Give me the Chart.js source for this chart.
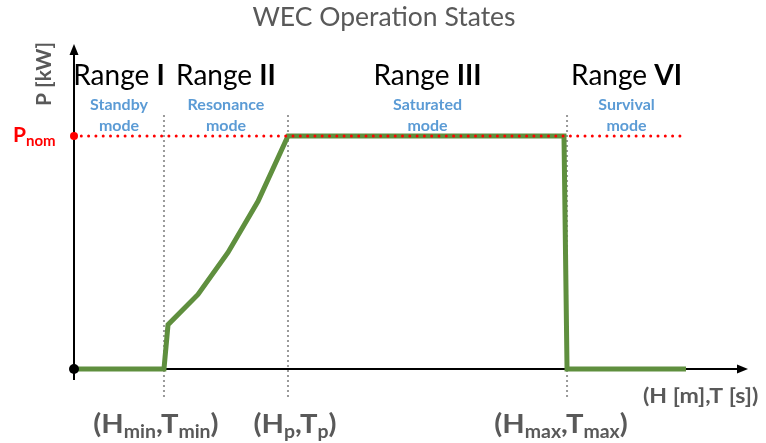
<!DOCTYPE html>
<html>
<head>
<meta charset="utf-8">
<script src="https://cdn.jsdelivr.net/npm/chart.js@4"></script>
<style>
  html, body { margin: 0; padding: 0; background: #fff; }
  #wrap { width: 766px; height: 443px; }
</style>
</head>
<body>
<div id="wrap"><canvas id="chart" width="766" height="443"></canvas></div>
<script>
// curva de potência (x: escala H/T relativa, y: P / Pnom)
const powerX = [0, 13.35, 13.95, 18.4, 22.85, 27.3, 31.75, 72.7, 73.15, 90.8];
const powerY = [0, 0, 0.19, 0.32, 0.50, 0.72, 1, 1, 0, 0];
const pNom = 1;
const pNomEnd = 90.8;

// faixas de operação
const rangeEdges = [0, 13.35, 31.75, 73.15, 90.8];
const rangeLabels = ['Range I', 'Range II', 'Range III', 'Range VI'];
const modeLabels = [['Standby', 'mode'], ['Resonance', 'mode'], ['Saturated', 'mode'], ['Survival', 'mode']];

// limites no eixo x
const boundaryX = [13.35, 31.75, 73.15];
const boundaryLabels = ['(H_{min},T_{min})', '(H_{p},T_{p})', '(H_{max},T_{max})'];
const boundaryShift = [-8, 7, -6];

const gray = '#595959';
const green = '#5f8f3e';
const FONT = 'Lato, "Open Sans", sans-serif';

// escreve texto com subscritos no formato X_{sub}
function drawRich(ctx, str, cx, y, size, subSize, color, align, sx) {
  sx = sx || 1;
  const parts = str.split(/_\{([^}]*)\}/);
  const pieces = parts.map((t, i) => ({ t, sub: i % 2 === 1 }));
  let total = 0;
  pieces.forEach(p => {
    ctx.font = 'bold ' + (p.sub ? subSize : size) + 'px ' + FONT;
    p.w = ctx.measureText(p.t).width;
    total += p.w;
  });
  const start = align === 'left' ? cx : cx - total * sx / 2;
  ctx.save();
  ctx.translate(start, y);
  ctx.scale(sx, 1);
  ctx.fillStyle = color;
  ctx.textAlign = 'left';
  ctx.textBaseline = 'alphabetic';
  let x = 0;
  pieces.forEach(p => {
    ctx.font = 'bold ' + (p.sub ? subSize : size) + 'px ' + FONT;
    ctx.fillText(p.t, x, p.sub ? size * 0.2 : 0);
    x += p.w;
  });
  ctx.restore();
}

// "Range" normal + numeral em negrito
function drawRange(ctx, lbl, cx, y) {
  const sp = lbl.indexOf(' ');
  const a = lbl.slice(0, sp + 1), b = lbl.slice(sp + 1);
  ctx.font = '28px ' + FONT;
  const wa = ctx.measureText(a).width;
  ctx.font = 'bold 28px ' + FONT;
  const wb = ctx.measureText(b).width;
  const start = cx - (wa + wb) / 2;
  ctx.textAlign = 'left';
  ctx.fillStyle = '#000';
  ctx.font = '28px ' + FONT;
  ctx.fillText(a, start, y);
  ctx.font = 'bold 28px ' + FONT;
  ctx.fillText(b, start + wa, y);
}

const decor = {
  id: 'decor',
  beforeDatasetsDraw(chart) {
    const { ctx, chartArea: a, scales: { x, y } } = chart;
    ctx.save();
    // linhas pontilhadas cinza nos limites
    ctx.strokeStyle = '#9a9a9a';
    ctx.lineWidth = 2;
    ctx.setLineDash([2, 3]);
    boundaryX.forEach(v => {
      const px = x.getPixelForValue(v);
      ctx.beginPath();
      ctx.moveTo(px, 115);
      ctx.lineTo(px, 397);
      ctx.stroke();
    });
    ctx.setLineDash([]);

    // eixos com setas
    ctx.strokeStyle = '#000';
    ctx.fillStyle = '#000';
    ctx.lineWidth = 2;
    const x0 = x.getPixelForValue(0), y0 = y.getPixelForValue(0);
    ctx.beginPath();
    ctx.moveTo(x0, y0 + 11);
    ctx.lineTo(x0, a.top + 8);
    ctx.moveTo(x0 - 4, y0);
    ctx.lineTo(a.right - 8, y0);
    ctx.stroke();
    ctx.beginPath();
    ctx.moveTo(x0, a.top);
    ctx.lineTo(x0 - 4.5, a.top + 11);
    ctx.lineTo(x0 + 4.5, a.top + 11);
    ctx.closePath();
    ctx.fill();
    ctx.beginPath();
    ctx.moveTo(a.right, y0);
    ctx.lineTo(a.right - 11, y0 - 4.5);
    ctx.lineTo(a.right - 11, y0 + 4.5);
    ctx.closePath();
    ctx.fill();
    ctx.restore();
  },
  afterDatasetsDraw(chart) {
    const { ctx, scales: { x, y } } = chart;
    ctx.save();
    const x0 = x.getPixelForValue(0), y0 = y.getPixelForValue(0);
    // pontos na origem e em Pnom
    ctx.fillStyle = '#000';
    ctx.beginPath();
    ctx.arc(x0, y0, 5, 0, Math.PI * 2);
    ctx.fill();
    ctx.fillStyle = '#ff0000';
    ctx.beginPath();
    ctx.arc(x0, y.getPixelForValue(pNom), 4, 0, Math.PI * 2);
    ctx.fill();

    // títulos das faixas e modos
    ctx.textBaseline = 'alphabetic';
    rangeLabels.forEach((lbl, i) => {
      const cx = (x.getPixelForValue(rangeEdges[i]) + x.getPixelForValue(rangeEdges[i + 1])) / 2;
      drawRange(ctx, lbl, cx, 85);
      ctx.textAlign = 'center';
      ctx.fillStyle = '#5b9bd5';
      ctx.font = 'bold 16px ' + FONT;
      ctx.fillText(modeLabels[i][0], cx, 110);
      ctx.fillText(modeLabels[i][1], cx, 131);
    });

    // rótulo do eixo y
    ctx.save();
    ctx.translate(51, 74);
    ctx.rotate(-Math.PI / 2);
    ctx.textAlign = 'center';
    ctx.fillStyle = gray;
    ctx.font = 'bold 21px ' + FONT;
    ctx.fillText('P [kW]', 0, 0);
    ctx.restore();

    // Pnom
    drawRich(ctx, 'P_{nom}', 13, 142, 21, 15, '#ff0000', 'left');

    // limites no eixo x
    boundaryX.forEach((v, i) => {
      drawRich(ctx, boundaryLabels[i], x.getPixelForValue(v) + boundaryShift[i], 433, 27, 18, gray, 'center', 1.08);
    });
    drawRich(ctx, '(H [m],T [s])', 643, 403, 21, 14, gray, 'left', 1.1);
    ctx.restore();
  }
};

new Chart(document.getElementById('chart'), {
  type: 'line',
  data: {
    datasets: [
      {
        label: 'Pnom',
        data: [{ x: 0, y: pNom }, { x: pNomEnd, y: pNom }],
        borderColor: '#ff0000',
        borderWidth: 3,
        borderDash: [0, 7.3],
        borderCapStyle: 'round',
        pointRadius: 0,
        clip: false,
        order: 1
      },
      {
        label: 'P',
        data: powerX.map((v, i) => ({ x: v, y: powerY[i] })),
        borderColor: green,
        borderWidth: 5,
        pointRadius: 0,
        tension: 0,
        clip: false,
        order: 2
      }
    ]
  },
  options: {
    responsive: false,
    animation: false,
    layout: { padding: { left: 74, right: 18, top: 44, bottom: 74 } },
    plugins: {
      legend: { display: false },
      tooltip: { enabled: false },
      title: {
        display: false
      }
    },
    scales: {
      x: { type: 'linear', min: 0, max: 100, display: false },
      y: { min: 0, max: 1.395, display: false }
    }
  },
  plugins: [decor, {
    id: 'titulo',
    afterDraw(chart) {
      const ctx = chart.ctx;
      ctx.save();
      ctx.fillStyle = gray;
      ctx.font = '26.5px ' + FONT;
      ctx.textAlign = 'center';
      ctx.fillText('WEC Operation States', 384, 26);
      ctx.restore();
    }
  }]
});
</script>
</body>
</html>
